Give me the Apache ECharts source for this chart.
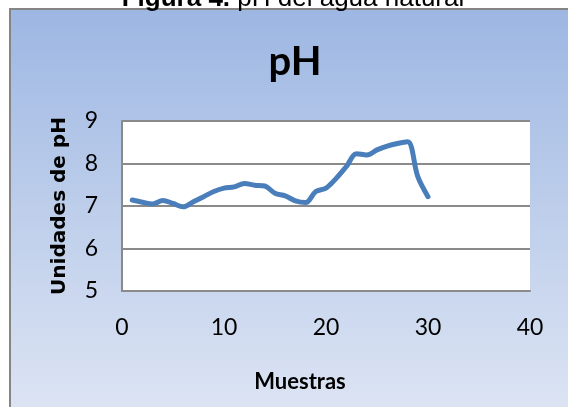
<!DOCTYPE html>
<html>
<head>
<meta charset="utf-8">
<script src="https://cdn.jsdelivr.net/npm/echarts@6/dist/echarts.min.js"></script>
<style>
  html, body { margin: 0; padding: 0; background: #fff; }
  #chart { width: 568px; height: 407px; }
</style>
</head>
<body>
<div id="chart"></div>
<script>
// muestras 1..30 y su pH
const muestras = [1, 2, 3, 4, 5, 6, 7, 8, 9, 10, 11, 12, 13, 14, 15,
                  16, 17, 18, 19, 20, 21, 22, 23, 24, 25, 26, 27, 28, 29, 30]
const phValores = [7.14, 7.09, 7.05, 7.13, 7.06, 6.98, 7.1, 7.22, 7.34, 7.42,
                   7.45, 7.53, 7.49, 7.47, 7.3, 7.24, 7.12, 7.08, 7.34, 7.42,
                   7.65, 7.93, 8.23, 8.2, 8.32, 8.41, 8.47, 8.51, 7.69, 7.22]
const yTicks = [5, 6, 7, 8, 9]
const xTicks = [0, 10, 20, 30, 40]

const chart = echarts.init(document.getElementById('chart'))
const gris = '#8a8a8a'
const fuente = 'Lato'

const option = {
  animation: false,
  graphic: [
    {
      type: 'rect',
      shape: { x: 10, y: 9, width: 600, height: 420 },
      style: {
        fill: new echarts.graphic.LinearGradient(0, 0, 0, 1, [
          { offset: 0, color: '#9db7e3' },
          { offset: 0.5, color: '#bfcfeb' },
          { offset: 1, color: '#dfe6f4' }
        ])
      },
      z: -10
    },
    {
      type: 'polyline',
      shape: { points: [[10, 407], [10, 9], [568, 9]] },
      style: { stroke: '#858585', lineWidth: 2, fill: null },
      z: -5
    },
    {
      type: 'text',
      x: 293,
      y: 12,
      style: {
        text: '{b|Figura 4.} pH del agua natural',
        align: 'center',
        verticalAlign: 'bottom',
        fontFamily: 'Liberation Sans',
        fontSize: 26,
        fill: '#000',
        rich: { b: { fontWeight: 'bold', fontFamily: 'Liberation Sans', fontSize: 26 } }
      }
    }
  ],
  title: {
    text: 'pH',
    left: 290,
    top: 37,
    textAlign: 'center',
    textStyle: { fontFamily: fuente, fontWeight: 'bold', fontSize: 40, color: '#000' }
  },
  grid: { left: 122, top: 121, right: 38, bottom: 116, backgroundColor: '#fff', show: true, borderWidth: 0 },
  xAxis: {
    type: 'value',
    min: xTicks[0],
    max: xTicks[xTicks.length - 1],
    interval: 10,
    name: 'Muestras',
    nameLocation: 'middle',
    nameGap: 80,
    nameTextStyle: { fontFamily: fuente, fontWeight: 'bold', fontSize: 22, color: '#000', padding: [0, 52, 0, 0] },
    axisLine: { show: true, lineStyle: { color: gris, width: 2 } },
    axisTick: { show: false },
    splitLine: { show: false },
    axisLabel: { margin: 25, fontFamily: fuente, fontSize: 23, color: '#000' }
  },
  yAxis: {
    type: 'value',
    min: yTicks[0],
    max: yTicks[yTicks.length - 1],
    interval: 1,
    name: 'Unidades de pH',
    nameLocation: 'middle',
    nameGap: 52,
    nameTextStyle: { fontFamily: 'DejaVu Sans', fontWeight: 'bold', fontSize: 20, color: '#000' },
    axisLine: { show: true, lineStyle: { color: gris, width: 2 } },
    axisTick: { show: false },
    splitLine: { show: true, lineStyle: { color: gris, width: 2 } },
    axisLabel: { margin: 24, fontFamily: fuente, fontSize: 23, color: '#000' }
  },
  series: [
    {
      type: 'line',
      data: muestras.map((m, i) => [m, phValores[i]]),
      smooth: 0.35,
      symbol: 'none',
      lineStyle: { color: '#4a7ebb', width: 5, cap: 'round', join: 'round' }
    }
  ]
}
chart.setOption(option)
</script>
</body>
</html>
